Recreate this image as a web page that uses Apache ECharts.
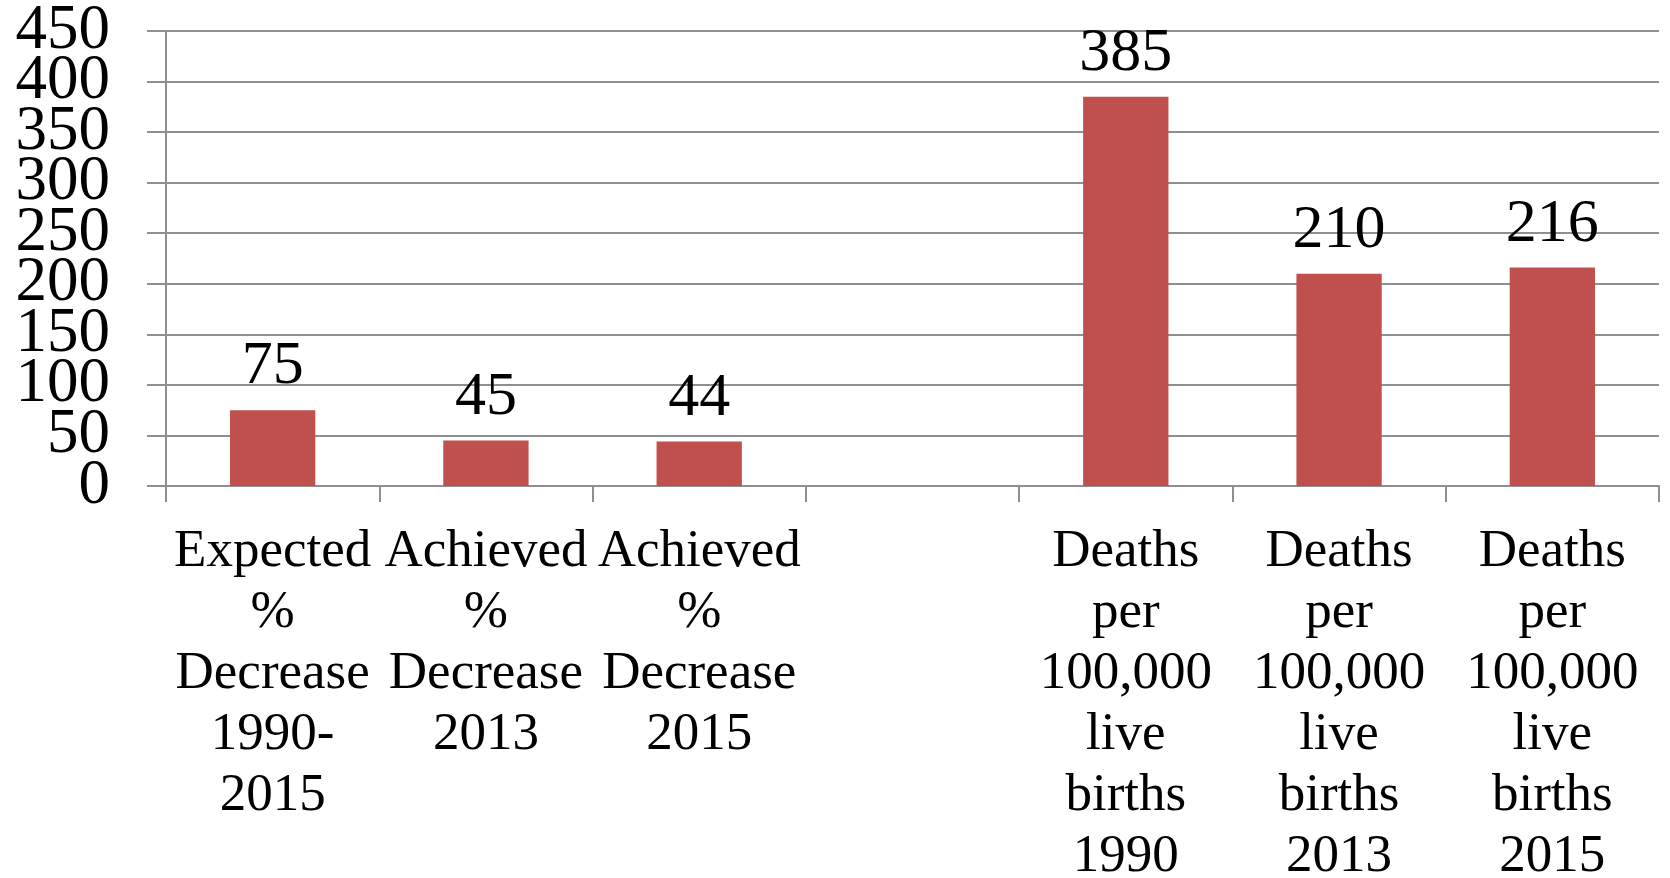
<!DOCTYPE html>
<html>
<head>
<meta charset="utf-8">
<title>Maternal deaths</title>
<script src="https://cdn.jsdelivr.net/npm/echarts@6/dist/echarts.min.js"></script>
<style>
  html, body { margin: 0; padding: 0; background: #fff; }
  #main { width: 1670px; height: 878px; }
</style>
</head>
<body>
<div id="main"></div>
<script>
// categories (one empty slot between the two groups)
const categories = [
  'Expected\n%\nDecrease\n1990-\n2015',
  'Achieved\n%\nDecrease\n2013',
  'Achieved\n%\nDecrease\n2015',
  '',
  'Deaths\nper\n100,000\nlive\nbirths\n1990',
  'Deaths\nper\n100,000\nlive\nbirths\n2013',
  'Deaths\nper\n100,000\nlive\nbirths\n2015'
]
const values = [75, 45, 44, '-', 385, 210, 216]
const yTicks = [0, 450, 50] // min, max, interval

const serif = '"Liberation Serif", "Times New Roman", serif'
const gridGray = '#8f8f8f'

// the tick labels are taller than the tick spacing, so every other label
// goes on a twin axis to stop echarts hiding them as overlapping
function yLabel(odd) {
  return {
    margin: 56,
    showMinLabel: true,
    showMaxLabel: true,
    color: '#000',
    fontFamily: serif,
    fontSize: 63,
    formatter: v => ((v / yTicks[2]) % 2 === 1) === odd ? String(v) : ''
  }
}

const chart = echarts.init(document.getElementById('main'))
chart.setOption({
  animation: false,
  grid: { left: 166, right: 11, top: 31, bottom: 392, outerBoundsMode: 'none' },
  xAxis: {
    type: 'category',
    data: categories,
    boundaryGap: true,
    axisLine: { show: true, lineStyle: { color: gridGray, width: 2 } },
    axisTick: { show: true, length: 16, interval: 0, lineStyle: { color: gridGray, width: 2 } },
    axisLabel: {
      interval: 0,
      margin: 36,
      color: '#000',
      fontFamily: serif,
      fontSize: 53,
      lineHeight: 61
    }
  },
  yAxis: [
    {
      type: 'value',
      position: 'left',
      min: yTicks[0],
      max: yTicks[1],
      interval: yTicks[2],
      axisLine: { show: true, lineStyle: { color: gridGray, width: 2 } },
      axisTick: { show: true, length: 19, lineStyle: { color: gridGray, width: 2 } },
      splitLine: { show: true, lineStyle: { color: gridGray, width: 2 } },
      axisLabel: yLabel(false)
    },
    {
      type: 'value',
      position: 'left',
      min: yTicks[0],
      max: yTicks[1],
      interval: yTicks[2],
      axisLine: { show: false },
      axisTick: { show: false },
      splitLine: { show: false },
      axisLabel: yLabel(true)
    }
  ],
  series: [
    {
      type: 'bar',
      yAxisIndex: 0,
      data: values,
      barWidth: '40%',
      itemStyle: { color: '#C0504D' },
      label: {
        show: true,
        position: 'top',
        distance: 12,
        color: '#000',
        fontFamily: serif,
        fontSize: 62
      }
    }
  ]
})
</script>
</body>
</html>
